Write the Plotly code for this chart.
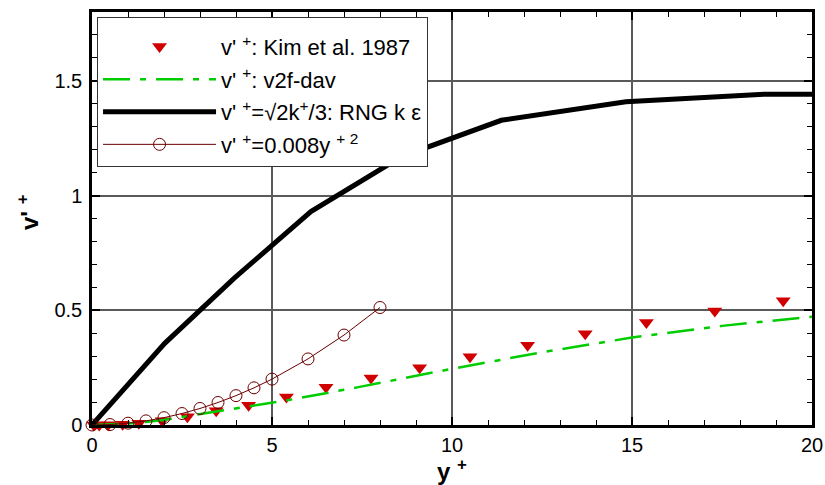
import plotly.graph_objects as go

# Kim et al. 1987 (DNS)
kim_y = [0.05, 0.2, 0.45, 0.85, 1.3, 1.95, 2.65, 3.45, 4.35, 5.4, 6.5, 7.75,
         9.1, 10.5, 12.1, 13.7, 15.4, 17.3, 19.2]
kim_v = [0.0, 0.0005, 0.001, 0.003, 0.008, 0.019, 0.036, 0.062, 0.086, 0.122,
         0.165, 0.205, 0.249, 0.298, 0.348, 0.398, 0.447, 0.497, 0.542]

# v2f-dav
v2f_y = [0, 1, 2, 3, 4, 5, 5.5, 7.4, 10, 12.5, 15, 17.5, 20]
v2f_v = [0, 0.006, 0.022, 0.047, 0.073, 0.098, 0.11, 0.165, 0.245, 0.317,
         0.381, 0.432, 0.472]

# RNG k-epsilon
rng_y = [0, 2.02, 3.96, 6.08, 8.6, 11.37, 14.83, 18.69, 20]
rng_v = [0, 0.356, 0.641, 0.93, 1.17, 1.328, 1.409, 1.442, 1.442]

# 0.008 y+^2
fit_y = [0, 0.5, 1, 1.5, 2, 2.5, 3, 3.5, 4, 4.5, 5, 6, 7, 8]
fit_v = [0, 0.002, 0.008, 0.018, 0.032, 0.05, 0.072, 0.098, 0.128, 0.162,
         0.2, 0.288, 0.392, 0.512]

FONT = "Arial, Liberation Sans, sans-serif"

fig = go.Figure()
fig.add_trace(go.Scatter(
    x=kim_y, y=kim_v, mode="markers", name="v' <sup>+</sup>: Kim et al. 1987",
    marker=dict(symbol="triangle-down", size=13, color="#d00000",
                line=dict(width=0)),
    cliponaxis=False, legendgroup="a"))
fig.add_trace(go.Scatter(
    x=v2f_y, y=v2f_v, mode="lines", name="v' <sup>+</sup>: v2f-dav",
    line=dict(color="#00cc00", width=2.5, dash="27px,10px,6px,10px"),
    legendgroup="b"))
fig.add_trace(go.Scatter(
    x=rng_y, y=rng_v, mode="lines",
    name="v' <sup>+</sup>=√2k<sup>+</sup>/3: RNG k ε",
    line=dict(color="black", width=5), legendgroup="c"))
fig.add_trace(go.Scatter(
    x=fit_y, y=fit_v, mode="lines+markers",
    name="v' <sup>+</sup>=0.008y <sup>+ 2</sup>",
    line=dict(color="#6a0000", width=1),
    marker=dict(symbol="circle-open", size=12, color="#6a0000",
                line=dict(width=1)),
    cliponaxis=False, legendgroup="d"))

axis_common = dict(
    showline=True, linecolor="black", linewidth=2.5, mirror="allticks",
    ticks="inside", ticklen=8, tickwidth=2, tickcolor="black",
    showgrid=True, gridcolor="#5a5a5a", gridwidth=2, zeroline=False,
    tickfont=dict(family=FONT, size=20, color="black"),
    automargin=False,
)

fig.update_xaxes(
    range=[0, 20], dtick=5, tick0=0,
    minor=dict(dtick=1, ticks="inside", ticklen=5, tickcolor="black",
               tickwidth=1, showgrid=False),
    **axis_common)
fig.update_yaxes(
    range=[0, 1.8], dtick=0.5, tick0=0, ticklabelstandoff=3,
    minor=dict(dtick=0.1, ticks="inside", ticklen=5, tickcolor="black",
               tickwidth=1, showgrid=False),
    **axis_common)

fig.update_layout(
    width=825, height=485,
    margin=dict(l=92, r=13, t=12, b=60),
    paper_bgcolor="white", plot_bgcolor="white",
    font=dict(family=FONT, size=20, color="black"),
    showlegend=True,
    legend=dict(
        x=0.007, y=0.988, xanchor="left", yanchor="top",
        bgcolor="white", bordercolor="#333333", borderwidth=1,
        font=dict(family=FONT, size=22, color="black"),
        itemwidth=113, tracegroupgap=1, traceorder="grouped",
        title=dict(text=" ", font=dict(size=6)),
    ),
    annotations=[
        dict(text="<b>y <sup>+</sup></b>", xref="paper", yref="paper",
             x=0.5, y=(425 - 470) / 413, xanchor="center", yanchor="middle",
             showarrow=False, font=dict(family=FONT, size=24, color="black")),
        dict(text="<b>v' <sup>+</sup></b>", xref="paper", yref="paper",
             x=(28 - 92) / 720, y=(425 - 212) / 413, xanchor="center",
             yanchor="middle", textangle=-90, showarrow=False,
             font=dict(family=FONT, size=24, color="black")),
    ],
)

fig.write_html("out.html", config={"displayModeBar": False},
               post_script="document.body.style.margin='0';")
